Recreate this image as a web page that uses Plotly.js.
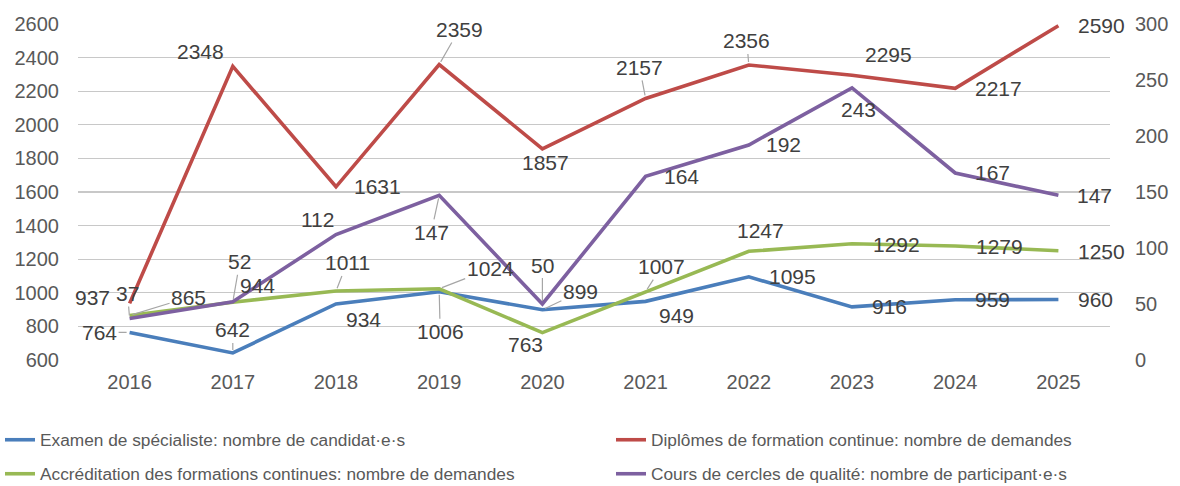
<!DOCTYPE html>
<html>
<head>
<meta charset="utf-8">
<script src="https://cdn.plot.ly/plotly-3.0.1.min.js"></script>
<style>html,body{margin:0;padding:0;background:#fff;}#chart{width:1180px;height:486px;}</style>
</head>
<body>
<div id="chart"></div>
<script>
// ---- data ----
const years = ['2016','2017','2018','2019','2020','2021','2022','2023','2024','2025'];
const examen = [764, 642, 934, 1006, 899, 949, 1095, 916, 959, 960];
const diplomes = [937, 2348, 1631, 2359, 1857, 2157, 2356, 2295, 2217, 2590];
const accreditation = [865, 944, 1011, 1024, 763, 1007, 1247, 1292, 1279, 1250];
const cercles = [37, 52, 112, 147, 50, 164, 192, 243, 167, 147];
const seriesNames = [
  'Examen de spécialiste: nombre de candidat·e·s',
  'Diplômes de formation continue: nombre de demandes',
  'Accréditation des formations continues: nombre de demandes',
  'Cours de cercles de qualité: nombre de participant·e·s'
];

// ---- styling / label placement (pixel offsets of label from its point, leader flag) ----
const colors = ['#4A7EBB', '#BE4B48', '#98B954', '#7D60A0'];
const offExamen = [[-30,0,1],[0,-23,1],[27,16,0],[1,40,1],[38,-18,1],[31,14,0],[44,0,0],[37,0,0],[37,0,0],[37,0,0]];
const offDiplomes = [[-37,-6,0],[-32,-15,0],[41,0,0],[20,-35,1],[3,14,0],[-6,-31,1],[-2,-24,1],[36,-21,0],[43,0,0],[43,0,0]];
const offAccred = [[59,-18,1],[25,-17,0],[11,-28,1],[51,-20,1],[-17,12,0],[16,-25,1],[12,-21,0],[44,1,0],[44,1,0],[43,1,0]];
const offCercles = [[-2,-25,1],[7,-40,1],[-19,-15,0],[-8,37,1],[0,-39,1],[36,0,0],[35,0,0],[6,22,0],[37,0,0],[36,0,0]];
const legendPos = [[0, 422], [611, 422], [0, 456], [611, 456]];

const font = 'Arial, "Liberation Sans", sans-serif';
const allSeries = [
  {y: examen, axis: 'y', off: offExamen},
  {y: diplomes, axis: 'y', off: offDiplomes},
  {y: accreditation, axis: 'y', off: offAccred},
  {y: cercles, axis: 'y2', off: offCercles}
];
const legendIds = ['legend', 'legend2', 'legend3', 'legend4'];

const traces = allSeries.map((s, i) => ({
  x: years, y: s.y, name: seriesNames[i], type: 'scatter', mode: 'lines',
  yaxis: s.axis, line: {color: colors[i], width: 3.6},
  legend: legendIds[i]
}));

const annotations = [];
allSeries.forEach((s, i) => {
  s.y.forEach((v, j) => {
    const o = s.off[j];
    annotations.push({
      x: j, y: v, xref: 'x', yref: s.axis,
      text: String(v), showarrow: true, arrowhead: 0, arrowwidth: 1.2,
      arrowcolor: o[2] ? '#A6A6A6' : 'rgba(0,0,0,0)',
      ax: o[0], ay: o[1], standoff: 3, startstandoff: 0,
      font: {family: font, size: 21, color: '#404040'}
    });
  });
});

const tickFont = {family: font, size: 20, color: '#595959'};
const layout = {
  width: 1180, height: 486,
  margin: {l: 78, r: 70, t: 24, b: 126},
  paper_bgcolor: '#fff', plot_bgcolor: '#fff',
  showlegend: true,
  xaxis: {
    type: 'category', range: [-0.5, 9.5], autorange: false, showgrid: false, zeroline: false,
    showline: false, ticks: '', tickfont: tickFont, ticklabelstandoff: 8
  },
  yaxis: {
    range: [600, 2600], autorange: false, dtick: 200, showgrid: true, gridcolor: '#C8C8C8', gridwidth: 1.3,
    zeroline: false, showline: false, ticks: '', tickfont: tickFont, ticklabelstandoff: 18
  },
  yaxis2: {
    overlaying: 'y', side: 'right', range: [0, 300], autorange: false, dtick: 50,
    showgrid: false, zeroline: false, showline: false, ticks: '', tickfont: tickFont,
    ticklabelstandoff: 24
  },
  annotations: annotations
};
legendIds.forEach((id, i) => {
  layout[id] = {
    orientation: 'h', xref: 'container', yref: 'container',
    x: legendPos[i][0] / 1180, y: 1 - legendPos[i][1] / 486, xanchor: 'left', yanchor: 'top',
    itemwidth: 30,
    font: {family: font, size: 17.3, color: '#595959'}, bgcolor: 'rgba(0,0,0,0)'
  };
});

Plotly.newPlot('chart', traces, layout, {displayModeBar: false, staticPlot: true});
</script>
</body>
</html>
